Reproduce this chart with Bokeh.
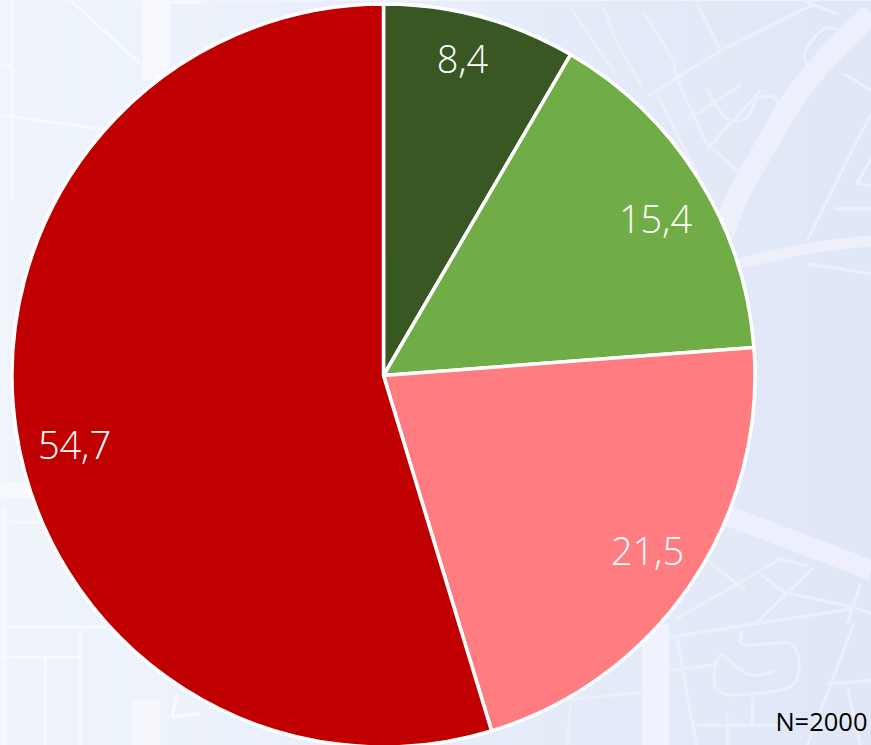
import numpy as np
from math import pi
from bokeh.plotting import figure
from bokeh.models import Range1d
from bokeh.embed import file_html
from bokeh.resources import INLINE
from bokeh.core.properties import value

# ---- data ----
values = [8.4, 15.4, 21.5, 54.7]
labels = ["8,4", "15,4", "21,5", "54,7"]
colors = ["#385723", "#70AD47", "#FF7C80", "#C00000"]
note = "N=2000"

# ---- layout (reference pixels; the plot's data space equals them) ----
W, H = 871, 745
CX, CY, R = 383, 375, 371.5
label_px = [(462, 58), (655, 218), (647, 550), (74, 444)]

def Y(py):
    return H - py

p = figure(width=W, height=H, output_backend="svg", toolbar_location=None,
           x_range=Range1d(0, W), y_range=Range1d(0, H),
           min_border=0, min_border_left=0, min_border_right=0,
           min_border_top=0, min_border_bottom=0)
p.xaxis.visible = False
p.yaxis.visible = False
p.grid.visible = False
p.outline_line_color = None
p.background_fill_color = "#EAF0FB"
p.border_fill_color = None

# background gradient
ny, nx = 75, 88
img = np.zeros((ny, nx), dtype=np.uint32)
view = img.view(dtype=np.uint8).reshape((ny, nx, 4))
left = np.array([240, 245, 252])
right = np.array([224, 231, 247])
for i in range(nx):
    t = i / (nx - 1)
    for j in range(ny):
        view[j, i, :3] = (left + (right - left) * t).astype(np.uint8)
        view[j, i, 3] = 255
p.image_rgba(image=[img], x=0, y=0, dw=W, dh=H)

# decorative street map (pixel traces from the background picture)
def z1(pts):
    return [(560 + a / 3, b / 3) for a, b in pts]
def z2(pts):
    return [(560 + a / 3, 480 + b / 3) for a, b in pts]
def z3(pts):
    return [(a / 3, b / 3) for a, b in pts]
def z4(pts):
    return [(a / 3, 480 + b / 3) for a, b in pts]

def smooth(pts, n=10):
    """Catmull-Rom pass through traced road points."""
    P = [pts[0]] + list(pts) + [pts[-1]]
    out = []
    for i in range(1, len(P) - 2):
        p0, p1, p2, p3 = [np.array(q, dtype=float) for q in P[i - 1:i + 3]]
        for t in np.linspace(0, 1, n, endpoint=False):
            out.append(tuple(0.5 * (2 * p1 + (p2 - p0) * t
                                    + (2 * p0 - 5 * p1 + 4 * p2 - p3) * t ** 2
                                    + (3 * p1 - p0 - 3 * p2 + p3) * t ** 3)))
    out.append(tuple(pts[-1]))
    return out

thin_right = [
    z1([(30,20),(130,170),(160,210)]), z1([(130,20),(170,130),(245,260)]),
    z1([(250,35),(340,180),(350,240),(440,430),(540,520)]),
    z1([(265,285),(480,150),(760,10)]), z1([(405,0),(480,150)]),
    z1([(290,280),(350,400),(410,520)]), z1([(385,355),(540,255)]),
    smooth(z1([(440,265),(470,320),(510,360),(560,350),(590,295),(640,290),(660,330)])),
    z1([(440,445),(600,270)]), smooth(z1([(740,200),(735,150),(790,85),(840,90)])),
    z1([(850,220),(933,270)]), smooth(z1([(740,720),(800,600),(880,440),(933,340)])),
    z1([(820,625),(933,625)]), z1([(933,470),(890,550),(933,555)]),
    z1([(740,790),(933,820)]), z1([(730,0),(830,40)]),
    z2([(440,240),(555,330)]), z2([(340,420),(660,235),(740,255)]),
    z2([(600,280),(670,335),(880,380),(933,400)]), z2([(585,430),(760,260)]),
    z2([(330,470),(580,430),(880,385)]), z2([(860,430),(900,310)]),
    z2([(740,795),(880,430)]), z2([(350,470),(390,700),(410,795)]),
    z2([(330,570),(480,550)]),
    smooth(z2([(545,450),(545,490),(620,490),(690,490),(715,540),(700,610),(620,635),
               (490,640),(460,590),(480,525),(530,560),(580,585),(650,570)])),
    z2([(575,650),(575,730)]), z2([(410,735),(650,735)]), z2([(800,610),(933,600)]),
    z2([(860,620),(900,795)]), z2([(0,660),(245,635)]), z2([(30,670),(20,795)]),
    z2([(500,700),(500,795)]),
]
thin_left = [
    z3([(35,0),(35,600)]), z3([(0,195),(35,195)]), z3([(210,0),(420,190)]),
    z3([(0,345),(300,385)]), z3([(510,5),(600,5)]),
    z4([(0,440),(320,440)]), z4([(0,530),(240,530)]), z4([(240,450),(240,795)]),
    z4([(135,535),(135,795)]), z4([(10,80),(10,795)]), z4([(30,125),(130,125)]),
    z4([(515,710),(600,700)]), z4([(515,710),(530,640)]),
]
for group, col in ((thin_right, "#ECF0FB"), (thin_left, "#F7F9FE")):
    p.multi_line(xs=[[a for a, _ in s] for s in group],
                 ys=[[Y(b) for _, b in s] for s in group],
                 line_color=col, line_width=3)

wide = [
    (smooth(z1([(480,720),(540,570),(620,430),(710,280),(820,150),(933,40)])), 22, "#EDF0FB"),
    (smooth(z1([(530,790),(740,745),(933,720)])), 11, "#EDF0FB"),
    (z2([(500,105),(933,270)]), 20, "#EDF0FC"),
    (z2([(285,430),(285,795)]), 27, "#F0F3FD"),
    (z3([(467,0),(467,240)]), 28, "#F7F9FE"),
    (z4([(437,660),(437,795)]), 28, "#F6F8FE"),
    (z4([(0,30),(90,30)]), 16, "#F7F9FE"),
]
for s, w, col in wide:
    p.line([a for a, _ in s], [Y(b) for _, b in s], line_color=col, line_width=w)

# pie
fractions = np.array(values) / sum(values)
cum = np.concatenate([[0], np.cumsum(fractions)])
starts = [pi / 2 - 2 * pi * c for c in cum[1:]]
ends = [pi / 2 - 2 * pi * c for c in cum[:-1]]
p.wedge(x=CX, y=Y(CY), radius=R, start_angle=starts, end_angle=ends,
        fill_color=colors, line_color="white", line_width=3.5)

# labels
p.text(x=[a for a, _ in label_px], y=[Y(b) for _, b in label_px], text=labels,
       text_color="white", text_font=value("Open Sans Light"), text_font_size="38px",
       text_align="center", text_baseline="middle")

p.text(x=[867], y=[Y(720)], text=[note], text_color="black",
       text_font=value("Open Sans"), text_font_size="25.5px",
       text_align="right", text_baseline="middle")

open("out.html", "w").write(file_html(p, INLINE))
